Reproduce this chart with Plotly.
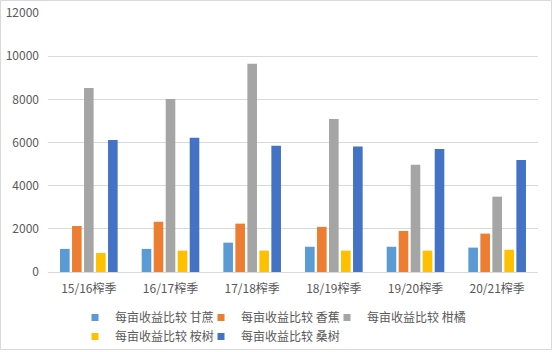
import plotly.graph_objects as go

categories = ["15/16榨季", "16/17榨季", "17/18榨季", "18/19榨季", "19/20榨季", "20/21榨季"]
series_names = ["每亩收益比较 甘蔗", "每亩收益比较 香蕉", "每亩收益比较 柑橘", "每亩收益比较 桉树", "每亩收益比较 桑树"]
ganzhe = [1070, 1070, 1360, 1170, 1170, 1130]
xiangjiao = [2130, 2330, 2240, 2090, 1900, 1780]
ganju = [8520, 8020, 9650, 7090, 4970, 3490]
anshu = [880, 990, 990, 990, 990, 1030]
sangshu = [6120, 6220, 5850, 5810, 5700, 5190]
colors = ["#5B9BD5", "#ED7D31", "#A5A5A5", "#FFC000", "#4472C4"]

values = [ganzhe, xiangjiao, ganju, anshu, sangshu]
FONT = "Noto Sans CJK SC, Noto Sans, sans-serif"

fig = go.Figure()
for i, (name, vals, col) in enumerate(zip(series_names, values, colors)):
    fig.add_trace(go.Bar(x=categories, y=vals, name=name, marker_color=col,
                         marker_line_width=0, legendgroup=name, showlegend=False))
for i, (name, col) in enumerate(zip(series_names, colors)):
    fig.add_trace(go.Scatter(x=[None], y=[None], mode="markers", name=name,
                             marker=dict(symbol="square", size=7, color=col),
                             legendgroup=name, showlegend=True))

L, R, T, B = 48, 17, 13, 80
W, H = 555, 352
pw, ph = W - L - R, H - T - B

def px_x(x):
    return (x - L) / pw

def px_y(y):
    return (H - B - y) / ph

fig.update_layout(
    width=W, height=H,
    margin=dict(l=L, r=R, t=T, b=B, autoexpand=False),
    paper_bgcolor="white", plot_bgcolor="white",
    barmode="group", bargap=0.265, bargroupgap=0.2,
    font=dict(family=FONT, size=12, color="#595959"),
    xaxis=dict(showgrid=False, showline=True, linecolor="#D9D9D9", linewidth=1,
               ticks="", tickangle=0, ticklabelstandoff=6,
               tickfont=dict(size=12, color="#595959"), fixedrange=True),
    yaxis=dict(range=[0, 12000], dtick=2000, showgrid=True, gridcolor="#D9D9D9",
               gridwidth=1, zeroline=False, showline=False, ticks="", ticklabelstandoff=8,
               tickfont=dict(size=12, color="#595959"), tickformat="d", fixedrange=True),
    legend=dict(orientation="h", x=px_x(279), xanchor="center",
                y=px_y(303), yanchor="top", font=dict(size=12, color="#595959"),
                indentation=-15, itemwidth=30, tracegroupgap=0,
                entrywidth=96, entrywidthmode="pixels",
                bgcolor="rgba(0,0,0,0)"),
    showlegend=True,
)
fig.add_shape(type="rect", xref="paper", yref="paper",
              x0=px_x(0.5), x1=px_x(551.5), y0=px_y(349.5), y1=px_y(0.5),
              line=dict(color="#D9D9D9", width=1), layer="below")

fig.write_html("out.html")
